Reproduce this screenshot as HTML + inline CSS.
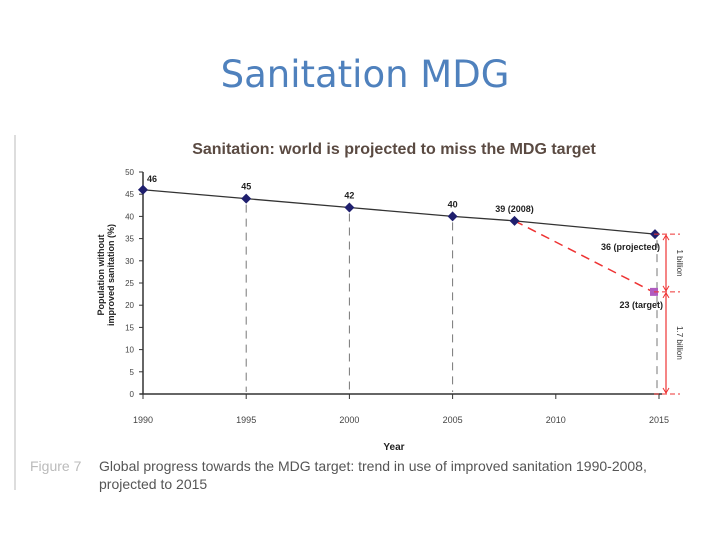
<!DOCTYPE html>
<html><head><meta charset="utf-8"><style>
body{margin:0;background:#fff;width:728px;height:546px;overflow:hidden;font-family:"Liberation Sans",sans-serif}
</style></head><body>
<svg width="728" height="546" viewBox="0 0 728 546">
<text x="365" y="87" text-anchor="middle" font-family="'DejaVu Sans',sans-serif" font-size="37" fill="#4f81bd">Sanitation MDG</text>
<line x1="15" y1="135" x2="15" y2="490" stroke="#ddd" stroke-width="2"/>
<text x="394" y="154" text-anchor="middle" font-size="16" font-weight="bold" fill="#5a4a42">Sanitation: world is projected to miss the MDG target</text>
<g id="chart"></g>
<text x="394" y="450" text-anchor="middle" font-size="10" font-weight="bold" fill="#222">Year</text>
<text transform="translate(104,275) rotate(-90)" text-anchor="middle" font-size="9" font-weight="bold" fill="#222"><tspan x="0" dy="0">Population without</tspan><tspan x="0" dy="10">improved sanitation (%)</tspan></text>
<text x="30" y="471" font-size="14" fill="#bbb">Figure 7</text>
<text x="99" y="471" font-size="14" fill="#555"><tspan x="99">Global progress towards the MDG target: trend in use of improved sanitation 1990-2008,</tspan><tspan x="99" dy="18">projected to 2015</tspan></text>
</svg>
<script>
const years=[1990,1995,2000,2005,2008,2015];
const values=[46,44,42,40,39,36];
const pointLabels=["46","45","42","40","39 (2008)","36 (projected)"];
const targetYear=2015, targetValue=23, targetLabel="23 (target)";
const xTicks=[1990,1995,2000,2005,2010,2015];
const yTicks=[0,5,10,15,20,25,30,35,40,45,50];
const dropYears=[1995,2000,2005,2015];
const NS="http://www.w3.org/2000/svg";
const g=document.getElementById('chart');
const X=y=>143+(y-1990)*(659-143)/25;
const Y=v=>394-v*(394-172)/50;
function mk(t,a,txt){const e=document.createElementNS(NS,t);for(const k in a)e.setAttribute(k,a[k]);if(txt!==undefined)e.textContent=txt;g.appendChild(e);return e;}
let e=mk('line',{x1:143,y1:172,x2:143,y2:394,stroke:'#333','stroke-width':1.5});


e=mk('line',{x1:140,y1:394,x2:662,y2:394,stroke:'#333','stroke-width':1.5});


yTicks.forEach(v=>{
 let t=mk('line',{x1:139,y1:Y(v),x2:143,y2:Y(v),stroke:'#333'});
 
 
 t=mk('text',{x:134,y:Y(v)+3,'text-anchor':'end','font-size':8,fill:'#444'},v);
 
 
});
xTicks.forEach(v=>{
 let t=mk('line',{x1:X(v),y1:394,x2:X(v),y2:399,stroke:'#333'});
 
 
 t=mk('text',{x:X(v),y:423,'text-anchor':'middle','font-size':9,fill:'#444'},v);
 
 
});
dropYears.forEach(yr=>{
 const i=years.indexOf(yr);
 const l=mk('line',{x1:X(yr)-(yr==2015?2:0),y1:Y(values[i])+6,x2:X(yr)-(yr==2015?2:0),y2:392,stroke:'#777','stroke-dasharray':'8,6'});
 
 
});
e=mk('polyline',{points:years.map((y,i)=>(X(y)-(y==2015?4:0))+','+Y(values[i])).join(' '),fill:'none',stroke:'#333','stroke-width':1.3});


const i08=years.indexOf(2008);
e=mk('line',{x1:X(2008),y1:Y(values[i08]),x2:X(targetYear)-6,y2:Y(targetValue),stroke:'#e33','stroke-width':1.5,'stroke-dasharray':'9,6'});


years.forEach((y,i)=>{
 const cx=X(y)-(y==2015?4:0),cy=Y(values[i]);
 const p=mk('polygon',{points:`${cx},${cy-5} ${cx+5},${cy} ${cx},${cy+5} ${cx-5},${cy}`,fill:'#1f1f6e'});
 
 
 let lx=cx,ly=cy-9,anc='middle';
 if(i==0){lx=cx+4;ly=cy-8;anc='start';}
 if(y==2015){lx=cx+5;ly=cy+16;anc='end';}
 const t=mk('text',{x:lx,y:ly,'text-anchor':anc,'font-size':9,'font-weight':'bold',fill:'#222'},pointLabels[i]);
 
 
});
const tx=X(targetYear)-5,ty=Y(targetValue);
e=mk('rect',{x:tx-4,y:ty-4,width:8,height:8,fill:'#b05cc0'});


e=mk('text',{x:tx+9,y:ty+16,'text-anchor':'end','font-size':9,'font-weight':'bold',fill:'#222'},targetLabel);


const ax=666;
[values[5],targetValue,0].forEach(v=>{
 const l=mk('line',{x1:654,y1:Y(v),x2:680,y2:Y(v),stroke:'#e33','stroke-dasharray':'5,3'});
 
 
});
[[values[5],targetValue,'1 billion'],[targetValue,0,'1.7 billion']].forEach(([a,b,lab])=>{
 const l=mk('line',{x1:ax,y1:Y(a)+1,x2:ax,y2:Y(b)-1,stroke:'#e33','stroke-width':1.2});
 
 
 mk('polyline',{points:`${ax-3},${Y(a)+6} ${ax},${Y(a)+1} ${ax+3},${Y(a)+6}`,fill:'none',stroke:'#e33'});
 mk('polyline',{points:`${ax-3},${Y(b)-6} ${ax},${Y(b)-1} ${ax+3},${Y(b)-6}`,fill:'none',stroke:'#e33'});
 const m=(Y(a)+Y(b))/2;
 const t=mk('text',{x:0,y:0,transform:`translate(${ax+11},${m}) rotate(90)`,'text-anchor':'middle','font-size':8,fill:'#333'},lab);
 
 
});
</script>
</body></html>
